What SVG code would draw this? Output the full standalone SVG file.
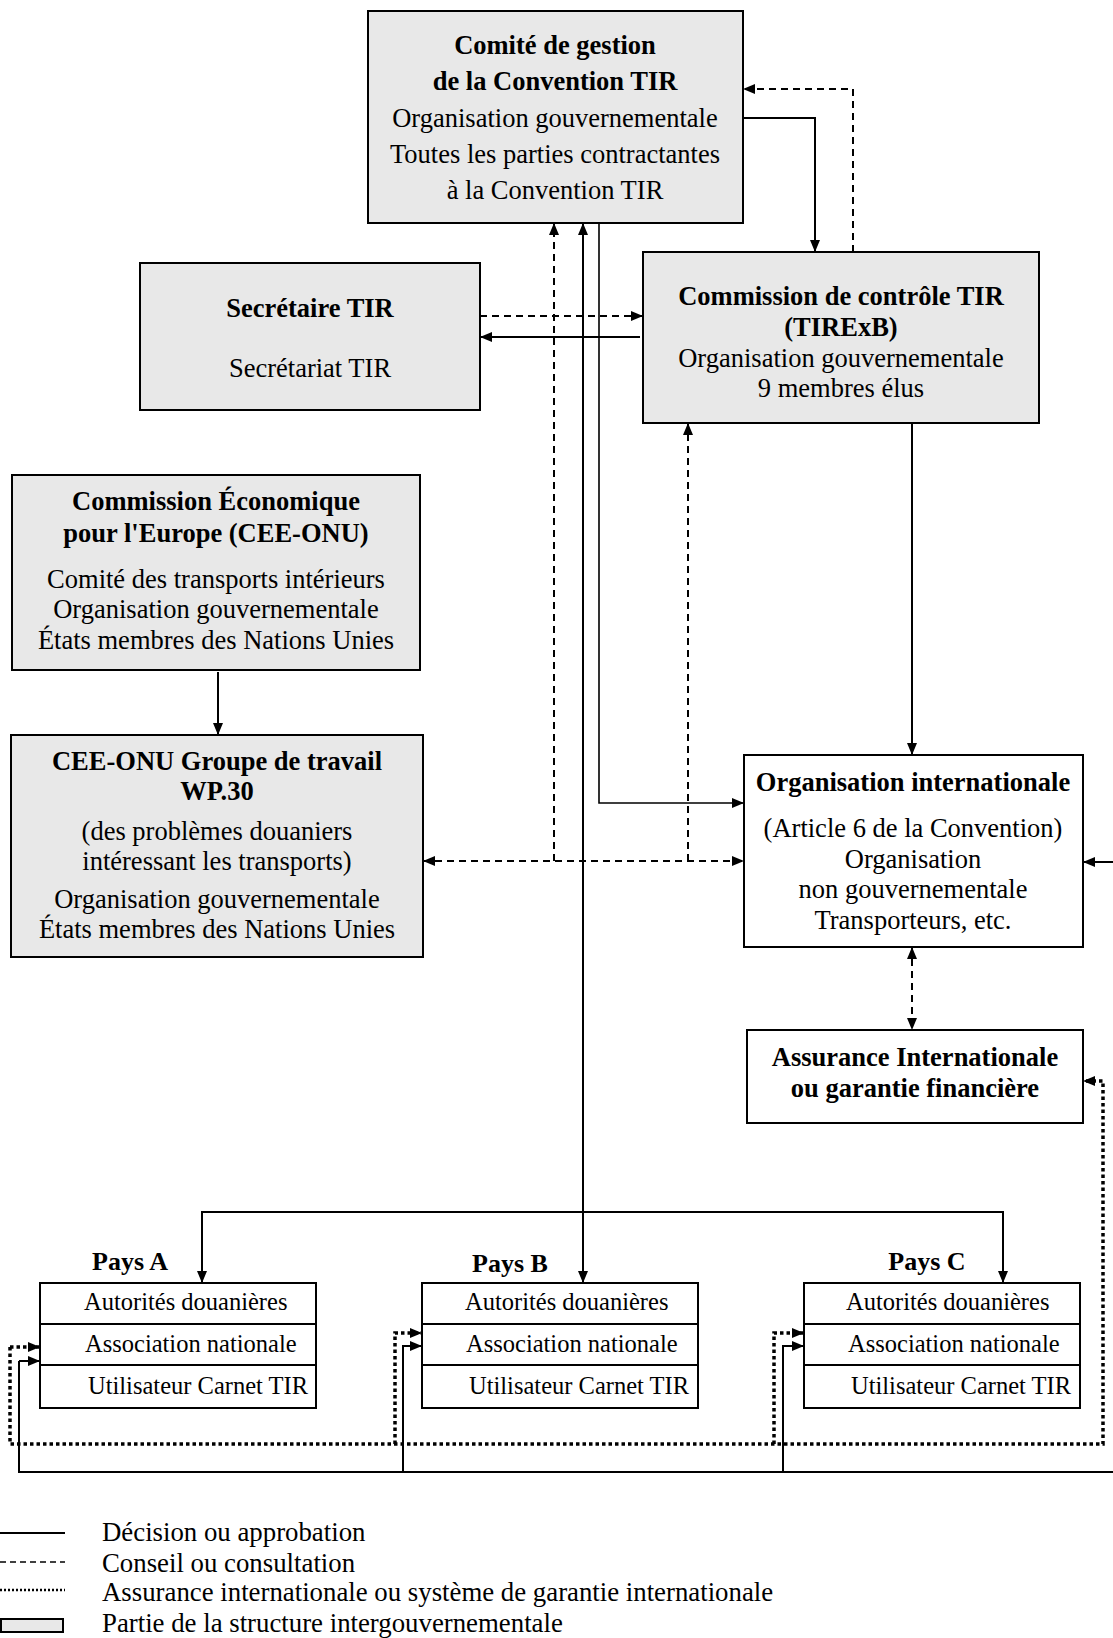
<svg xmlns="http://www.w3.org/2000/svg" width="1113" height="1638" viewBox="0 0 1113 1638">
<style>
  .box { fill: #e8e8e8; stroke: #000; stroke-width: 2; }
  .wbox { fill: #fff; stroke: #000; stroke-width: 2; }
  text { font-family: "Liberation Serif", "Times New Roman", serif; fill: #000; }
  .t { font-size: 26.5px; text-anchor: middle; }
  .b { font-weight: bold; }
  .p { font-size: 24.5px; }
  .lg { font-size: 26.8px; }
  .c { fill: none; stroke: #000; stroke-width: 2; }
  .thin { fill: none; stroke: #000; stroke-width: 1.6; }
  .d { fill: none; stroke: #000; stroke-width: 2; stroke-dasharray: 7 5; }
  .dot { fill: none; stroke: #000; stroke-width: 3.5; stroke-dasharray: 3.5 3; }
</style>
<defs>
  <marker id="ah" markerUnits="userSpaceOnUse" markerWidth="12" markerHeight="10" refX="12" refY="5" orient="auto-start-reverse">
    <path d="M0,0 L12,5 L0,10 z" fill="#000"/>
  </marker>
  <marker id="as" markerUnits="userSpaceOnUse" markerWidth="9" markerHeight="8" refX="9" refY="4" orient="auto">
    <path d="M0,0 L9,4 L0,8 z" fill="#000"/>
  </marker>
</defs>

<g id="connectors">
  <path class="c" d="M743,118 H815 V252" marker-end="url(#ah)"/>
  <path class="d" d="M853,252 V89 H743" marker-end="url(#ah)"/>
  <path class="d" d="M480,316 H643" marker-end="url(#ah)"/>
  <path class="c" d="M640,337 H480" marker-end="url(#ah)"/>
  <path class="d" d="M554,861 V223" marker-end="url(#ah)"/>
  <path class="c" d="M583,223 V1283" marker-start="url(#ah)" marker-end="url(#ah)"/>
  <path class="thin" d="M599,223 V803 H744" marker-end="url(#ah)"/>
  <path class="d" d="M423,861 H744" marker-start="url(#ah)" marker-end="url(#ah)"/>
  <path class="d" d="M688,861 V423" marker-end="url(#ah)"/>
  <path class="c" d="M912,423 V755" marker-end="url(#ah)"/>
  <path class="d" d="M912,947 V1030" marker-start="url(#ah)" marker-end="url(#ah)"/>
  <path class="c" d="M1113,862 H1083" marker-end="url(#ah)"/>
  <path class="c" d="M218,672 V735" marker-end="url(#ah)"/>
  <path class="c" d="M202,1283 V1212 H1003 V1283" marker-start="url(#ah)" marker-end="url(#ah)"/>
  <path class="c" d="M19,1361 V1472 H1113"/>
  <path class="c" d="M19,1361 H40" marker-end="url(#ah)"/>
  <path class="c" d="M403,1472 V1346 H422" marker-end="url(#ah)"/>
  <path class="c" d="M783,1472 V1346 H804" marker-end="url(#ah)"/>
  <path class="dot" d="M10,1347 V1444 H1103 V1081 H1083" marker-end="url(#ah)"/>
  <path class="dot" d="M10,1347 H40" marker-end="url(#ah)"/>
  <path class="dot" d="M395,1444 V1333 H422" marker-end="url(#ah)"/>
  <path class="dot" d="M774,1444 V1333 H804" marker-end="url(#ah)"/>
  <path class="thin" d="M61,1297 V1345" marker-end="url(#as)"/>
  <path class="thin" d="M73,1350 V1389" marker-end="url(#as)"/>
  <path class="thin" d="M443,1297 V1345" marker-end="url(#as)"/>
  <path class="thin" d="M455,1350 V1389" marker-end="url(#as)"/>
  <path class="thin" d="M825,1297 V1345" marker-end="url(#as)"/>
  <path class="thin" d="M837,1350 V1389" marker-end="url(#as)"/>
</g>

<g id="comite">
  <rect class="box" x="368" y="11" width="375" height="212"/>
  <text class="t b" x="555" y="54">Comité de gestion</text>
  <text class="t b" x="555" y="90">de la Convention TIR</text>
  <text class="t" x="555" y="127">Organisation gouvernementale</text>
  <text class="t" x="555" y="163">Toutes les parties contractantes</text>
  <text class="t" x="555" y="199">à la Convention TIR</text>
</g>

<g id="secretaire">
  <rect class="box" x="140" y="263" width="340" height="147"/>
  <text class="t b" x="310" y="317">Secrétaire TIR</text>
  <text class="t" x="310" y="377">Secrétariat TIR</text>
</g>

<g id="commission">
  <rect class="box" x="643" y="252" width="396" height="171"/>
  <text class="t b" x="841" y="305">Commission de contrôle TIR</text>
  <text class="t b" x="841" y="336">(TIRExB)</text>
  <text class="t" x="841" y="367">Organisation gouvernementale</text>
  <text class="t" x="841" y="397">9 membres élus</text>
</g>

<g id="cee">
  <rect class="box" x="12" y="475" width="408" height="195"/>
  <text class="t b" x="216" y="510">Commission Économique</text>
  <text class="t b" x="216" y="542">pour l'Europe (CEE-ONU)</text>
  <text class="t" x="216" y="588">Comité des transports intérieurs</text>
  <text class="t" x="216" y="618">Organisation gouvernementale</text>
  <text class="t" x="216" y="649">États membres des Nations Unies</text>
</g>

<g id="wp30">
  <rect class="box" x="11" y="735" width="412" height="222"/>
  <text class="t b" x="217" y="770">CEE-ONU Groupe de travail</text>
  <text class="t b" x="217" y="800">WP.30</text>
  <text class="t" x="217" y="840">(des problèmes douaniers</text>
  <text class="t" x="217" y="870">intéressant les transports)</text>
  <text class="t" x="217" y="908">Organisation gouvernementale</text>
  <text class="t" x="217" y="938">États membres des Nations Unies</text>
</g>

<g id="org-internationale">
  <rect class="wbox" x="744" y="755" width="339" height="192"/>
  <text class="t b" x="913" y="791">Organisation internationale</text>
  <text class="t" x="913" y="837">(Article 6 de la Convention)</text>
  <text class="t" x="913" y="868">Organisation</text>
  <text class="t" x="913" y="898">non gouvernementale</text>
  <text class="t" x="913" y="929">Transporteurs, etc.</text>
</g>

<g id="assurance">
  <rect class="wbox" x="747" y="1030" width="336" height="93"/>
  <text class="t b" x="915" y="1066">Assurance Internationale</text>
  <text class="t b" x="915" y="1097">ou garantie financière</text>
</g>

<g id="pays-a">
  <text class="t b" x="130" y="1270" style="font-size:26px">Pays A</text>
  <rect class="wbox" x="40" y="1283" width="276" height="125"/>
  <line x1="40" y1="1324" x2="316" y2="1324" stroke="#000" stroke-width="2"/>
  <line x1="40" y1="1365" x2="316" y2="1365" stroke="#000" stroke-width="2"/>
  <text class="p" x="84" y="1310">Autorités douanières</text>
  <text class="p" x="85" y="1352">Association nationale</text>
  <text class="p" x="88" y="1394">Utilisateur Carnet TIR</text>
</g>

<g id="pays-b">
  <text class="t b" x="510" y="1272" style="font-size:26px">Pays B</text>
  <rect class="wbox" x="422" y="1283" width="276" height="125"/>
  <line x1="422" y1="1324" x2="698" y2="1324" stroke="#000" stroke-width="2"/>
  <line x1="422" y1="1365" x2="698" y2="1365" stroke="#000" stroke-width="2"/>
  <text class="p" x="465" y="1310">Autorités douanières</text>
  <text class="p" x="466" y="1352">Association nationale</text>
  <text class="p" x="469" y="1394">Utilisateur Carnet TIR</text>
</g>

<g id="pays-c">
  <text class="t b" x="927" y="1270" style="font-size:26px">Pays C</text>
  <rect class="wbox" x="804" y="1283" width="276" height="125"/>
  <line x1="804" y1="1324" x2="1080" y2="1324" stroke="#000" stroke-width="2"/>
  <line x1="804" y1="1365" x2="1080" y2="1365" stroke="#000" stroke-width="2"/>
  <text class="p" x="846" y="1310">Autorités douanières</text>
  <text class="p" x="848" y="1352">Association nationale</text>
  <text class="p" x="851" y="1394">Utilisateur Carnet TIR</text>
</g>

<g id="legend">
  <line x1="0" y1="1533" x2="65" y2="1533" stroke="#000" stroke-width="2"/>
  <line x1="0" y1="1562" x2="65" y2="1562" stroke="#000" stroke-width="1.5" stroke-dasharray="6 4"/>
  <line x1="0" y1="1590" x2="65" y2="1590" stroke="#000" stroke-width="2.5" stroke-dasharray="2 2"/>
  <rect x="1" y="1619" width="62" height="13" fill="#e8e8e8" stroke="#000" stroke-width="2"/>
  <text class="lg" x="102" y="1541">Décision ou approbation</text>
  <text class="lg" x="102" y="1572">Conseil ou consultation</text>
  <text class="lg" x="102" y="1601">Assurance internationale ou système de garantie internationale</text>
  <text class="lg" x="102" y="1632">Partie de la structure intergouvernementale</text>
</g>
</svg>
